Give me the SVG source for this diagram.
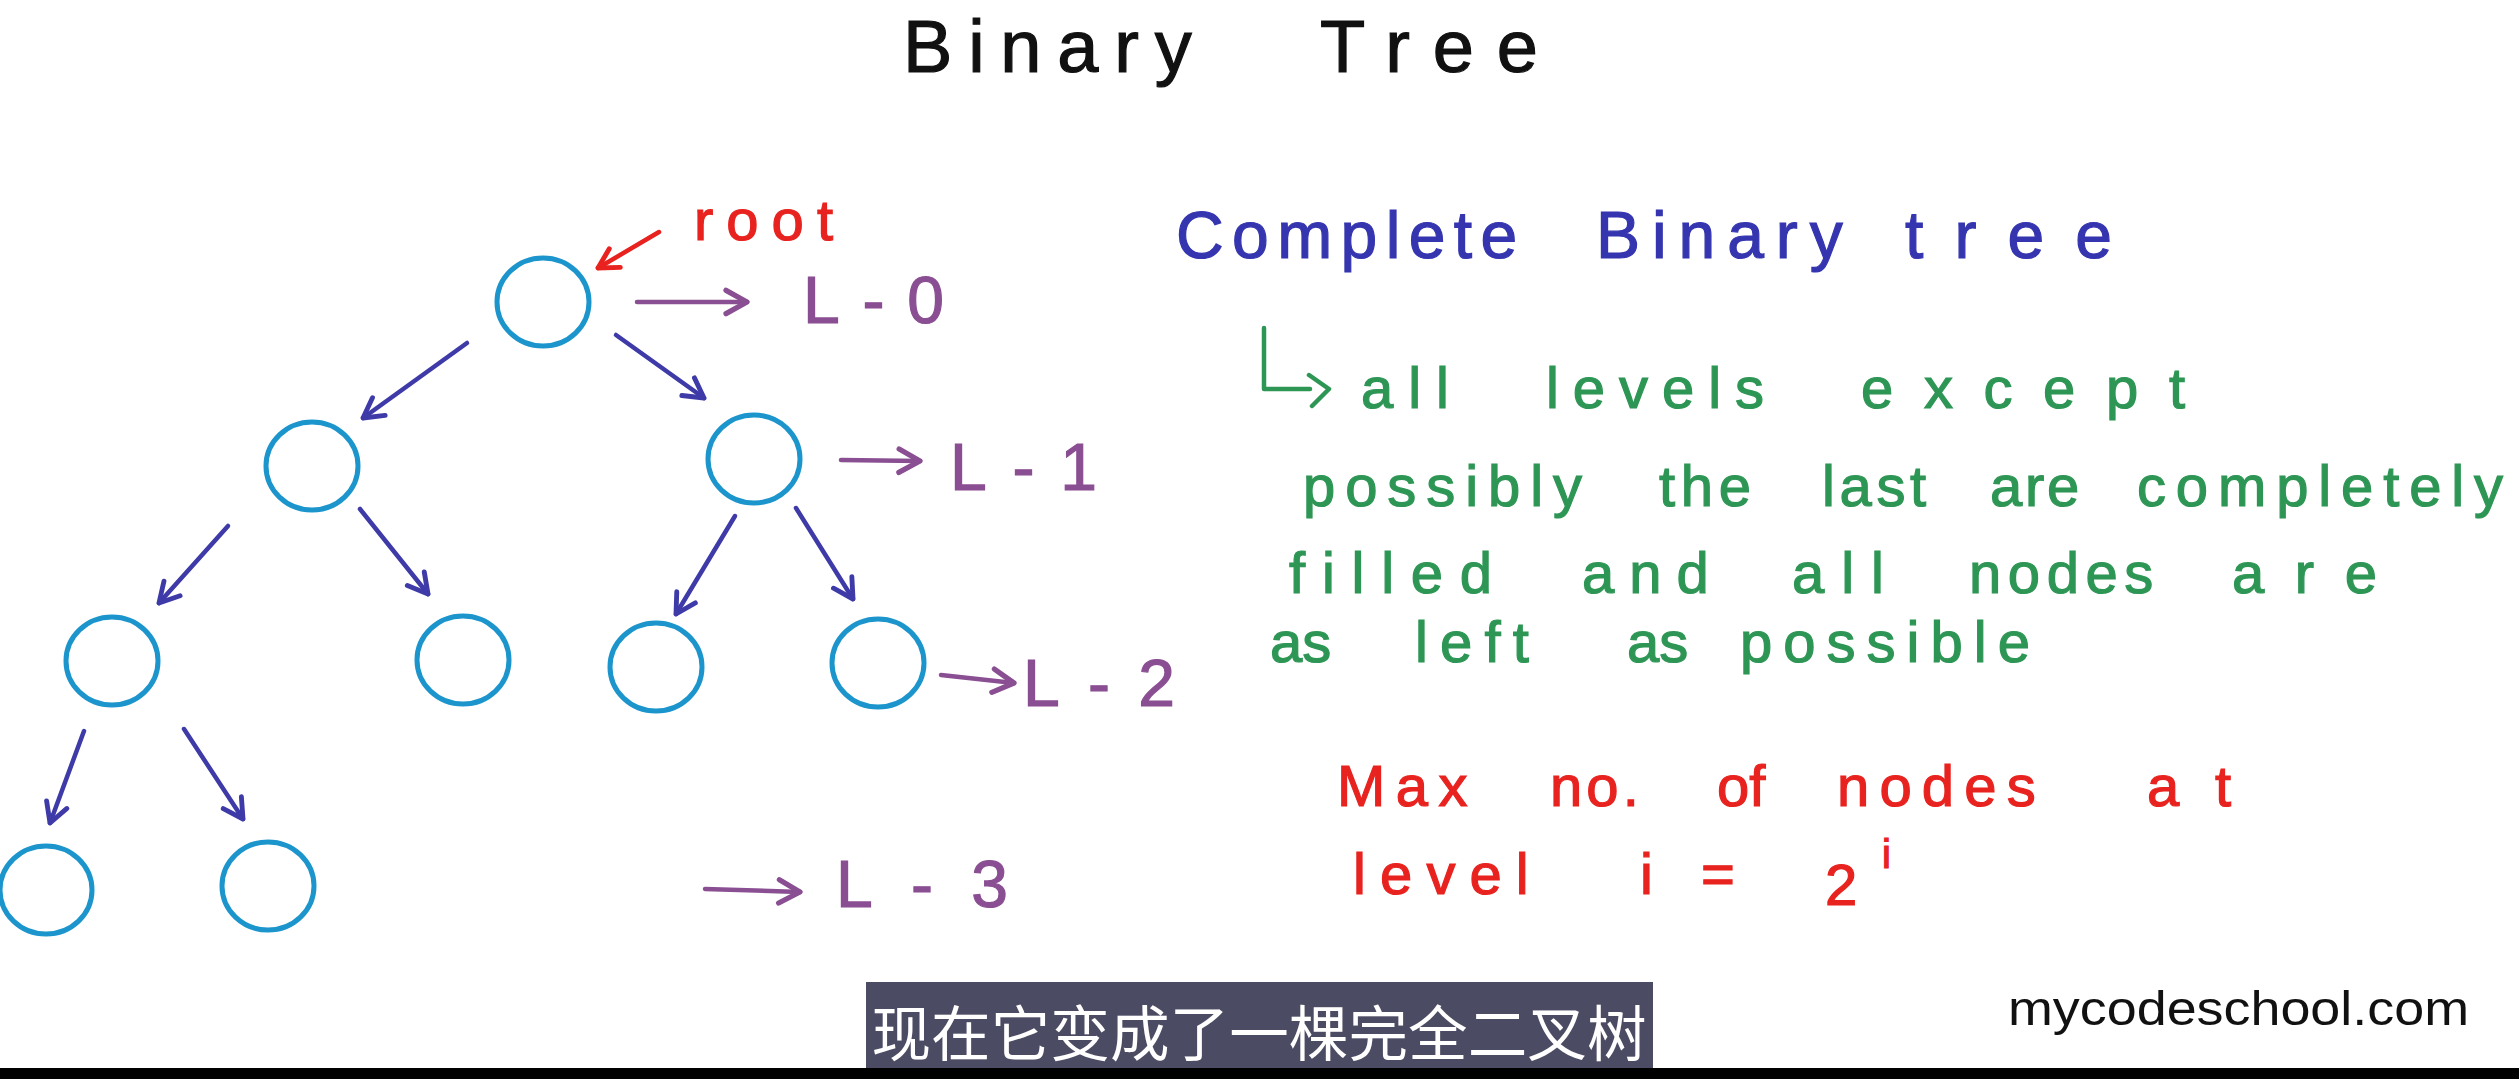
<svg xmlns="http://www.w3.org/2000/svg" width="2519" height="1079" viewBox="0 0 2519 1079">
<style>
.node{fill:none;stroke:#1c95cc;stroke-width:5}
.edge{fill:none;stroke:#3e3aa8;stroke-width:4.5;stroke-linecap:round}
.lvl{fill:none;stroke:#8a4e92;stroke-width:4.5;stroke-linecap:round}
.hand{font-family:"Liberation Sans","DejaVu Sans",sans-serif;stroke-width:1.2}
.title{font-size:74px;fill:#111;stroke:#111}
.blue{font-size:66px;fill:#3535b0;stroke:#3535b0}
.green{font-size:58px;fill:#2e9655;stroke:#2e9655}
.red{font-size:58px;fill:#e8231f;stroke:#e8231f}
.purple{font-size:66px;fill:#8a4e92;stroke:#8a4e92}
</style>
<defs>
<marker id="hb" viewBox="0 0 24 24" refX="20" refY="12" markerWidth="26" markerHeight="26" markerUnits="userSpaceOnUse" orient="auto" overflow="visible"><path d="M2,2 L20,12 L2,22" fill="none" stroke="#3e3aa8" stroke-width="4.5" stroke-linecap="round" stroke-linejoin="round"/></marker>
<marker id="hp" viewBox="0 0 24 24" refX="20" refY="12" markerWidth="28" markerHeight="28" markerUnits="userSpaceOnUse" orient="auto" overflow="visible"><path d="M2,2 L20,12 L2,22" fill="none" stroke="#8a4e92" stroke-width="4.5" stroke-linecap="round" stroke-linejoin="round"/></marker>
<marker id="hr" viewBox="0 0 24 24" refX="20" refY="12" markerWidth="26" markerHeight="26" markerUnits="userSpaceOnUse" orient="auto" overflow="visible"><path d="M2,2 L20,12 L2,22" fill="none" stroke="#e8231f" stroke-width="4.5" stroke-linecap="round" stroke-linejoin="round"/></marker>
</defs>
<rect width="2519" height="1079" fill="#ffffff"/>

<text class="hand title" y="72"><tspan x="903" textLength="325" lengthAdjust="spacing">Binary </tspan><tspan x="1320" textLength="218" lengthAdjust="spacing">Tree</tspan></text>

<g id="nodes">
<g id="n-root"><ellipse class="node" cx="543" cy="302" rx="46" ry="44"/></g>
<g id="n-1a"><ellipse class="node" cx="312" cy="466" rx="46" ry="44"/></g>
<g id="n-1b"><ellipse class="node" cx="754" cy="459" rx="46" ry="44"/></g>
<g id="n-2a"><ellipse class="node" cx="112" cy="661" rx="46" ry="44"/></g>
<g id="n-2b"><ellipse class="node" cx="463" cy="660" rx="46" ry="44"/></g>
<g id="n-2c"><ellipse class="node" cx="656" cy="667" rx="46" ry="44"/></g>
<g id="n-2d"><ellipse class="node" cx="878" cy="663" rx="46" ry="44"/></g>
<g id="n-3a"><ellipse class="node" cx="46" cy="890" rx="46" ry="44"/></g>
<g id="n-3b"><ellipse class="node" cx="268" cy="886" rx="46" ry="44"/></g>
</g>

<g id="connectors">
<line class="edge" x1="467" y1="343" x2="363" y2="418" marker-end="url(#hb)"/>
<line class="edge" x1="616" y1="335" x2="704" y2="398" marker-end="url(#hb)"/>
<line class="edge" x1="228" y1="526" x2="159" y2="603" marker-end="url(#hb)"/>
<line class="edge" x1="360" y1="509" x2="428" y2="594" marker-end="url(#hb)"/>
<line class="edge" x1="735" y1="516" x2="676" y2="614" marker-end="url(#hb)"/>
<line class="edge" x1="796" y1="508" x2="853" y2="599" marker-end="url(#hb)"/>
<line class="edge" x1="84" y1="731" x2="50" y2="823" marker-end="url(#hb)"/>
<line class="edge" x1="184" y1="729" x2="243" y2="819" marker-end="url(#hb)"/>
<line class="lvl" x1="637" y1="302" x2="747" y2="302" marker-end="url(#hp)"/>
<line class="lvl" x1="841" y1="460" x2="920" y2="461" marker-end="url(#hp)"/>
<line class="lvl" x1="941" y1="675" x2="1014" y2="683" marker-end="url(#hp)"/>
<line class="lvl" x1="705" y1="889" x2="800" y2="892" marker-end="url(#hp)"/>
<line x1="659" y1="232" x2="598" y2="268" stroke="#e8231f" stroke-width="4.5" stroke-linecap="round" marker-end="url(#hr)"/>
</g>

<g id="labels">
<text class="hand red" x="694" y="240" textLength="139" lengthAdjust="spacing">root</text>
<text class="hand purple" x="803" y="323" textLength="141" lengthAdjust="spacing">L-0</text>
<text class="hand purple" x="950" y="490" textLength="147" lengthAdjust="spacing">L-1</text>
<text class="hand purple" x="1023" y="706" textLength="152" lengthAdjust="spacing">L-2</text>
<text class="hand purple" x="836" y="907" textLength="172" lengthAdjust="spacing">L-3</text>
</g>

<g id="definition">
<text class="hand blue" y="258"><tspan x="1176" textLength="368" lengthAdjust="spacing">Complete </tspan><tspan x="1596" textLength="277" lengthAdjust="spacing">Binary </tspan><tspan x="1905" textLength="207" lengthAdjust="spacing">tree</tspan></text>
<path d="M1264,328 L1264,389 L1310,389 M1309,375 L1329,389 L1312,406" fill="none" stroke="#2e9655" stroke-width="4.5" stroke-linecap="round" stroke-linejoin="round"/>
<text class="hand green" y="408"><tspan x="1361" textLength="119" lengthAdjust="spacing">all </tspan><tspan x="1546" textLength="248" lengthAdjust="spacing">levels </tspan><tspan x="1861" textLength="324" lengthAdjust="spacing">except</tspan></text>
<text class="hand green" y="506"><tspan x="1303" textLength="305" lengthAdjust="spacing">possibly </tspan><tspan x="1659" textLength="114" lengthAdjust="spacing">the </tspan><tspan x="1822" textLength="125" lengthAdjust="spacing">last </tspan><tspan x="1990" textLength="108" lengthAdjust="spacing">are </tspan><tspan x="2137" textLength="366" lengthAdjust="spacing">completely</tspan></text>
<text class="hand green" y="593"><tspan x="1289" textLength="236" lengthAdjust="spacing">filled </tspan><tspan x="1582" textLength="158" lengthAdjust="spacing">and </tspan><tspan x="1792" textLength="125" lengthAdjust="spacing">all </tspan><tspan x="1969" textLength="207" lengthAdjust="spacing">nodes </tspan><tspan x="2232" textLength="145" lengthAdjust="spacing">are</tspan></text>
<text class="hand green" y="662"><tspan x="1270">as </tspan><tspan x="1415" textLength="142" lengthAdjust="spacing">left </tspan><tspan x="1627">as </tspan><tspan x="1740" textLength="290" lengthAdjust="spacing">possible</tspan></text>
</g>

<g id="formula">
<text class="hand red" y="806"><tspan x="1337" textLength="157" lengthAdjust="spacing">Max </tspan><tspan x="1550" textLength="109" lengthAdjust="spacing">no. </tspan><tspan x="1717">of </tspan><tspan x="1837" textLength="225" lengthAdjust="spacing">nodes </tspan><tspan x="2147" textLength="84" lengthAdjust="spacing">at</tspan></text>
<text class="hand red" y="894"><tspan x="1353" textLength="206" lengthAdjust="spacing">level </tspan><tspan x="1640">i </tspan><tspan x="1701">= </tspan><tspan x="1825" y="905">2</tspan><tspan x="1882" y="868" font-size="40">i</tspan></text>
</g>

<g id="caption">
<rect x="866" y="982" width="787" height="86" fill="#4b4b63"/>
<text x="1259" y="1056" text-anchor="middle" font-family="'Noto Sans CJK SC','Noto Sans CJK TC',sans-serif" font-size="60" fill="#ffffff" textLength="775" lengthAdjust="spacingAndGlyphs">现在它变成了一棵完全二叉树</text>
<text x="2008" y="1025" font-family="'Liberation Sans','DejaVu Sans',sans-serif" font-size="48" fill="#111" textLength="461" lengthAdjust="spacingAndGlyphs">mycodeschool.com</text>
</g>
<rect x="0" y="1068" width="2519" height="11" fill="#000"/>
</svg>
